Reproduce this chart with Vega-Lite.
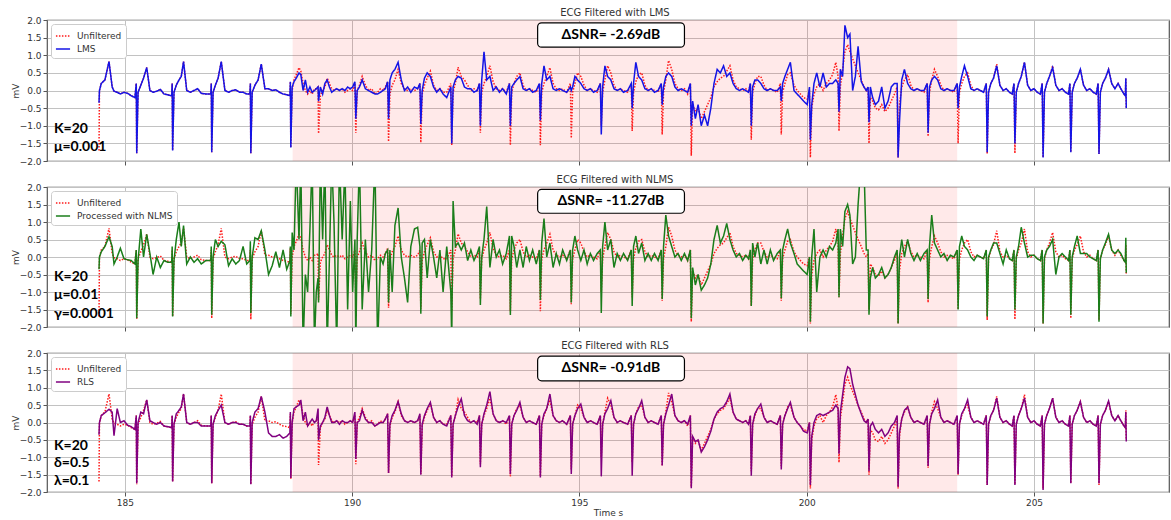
{
"$schema": "https://vega.github.io/schema/vega-lite/v6.json",
"padding": {"left": 10, "top": 7, "right": 0, "bottom": 0},
"spacing": 7,
"datasets": {"ecg": [
{"t":184.43,"u":-1.70,"l":-0.35,"n":-0.35,"r":-0.35},
{"t":184.44,"u":0.00,"l":0.00,"n":0.00,"r":0.00},
{"t":184.48,"u":0.20,"l":0.20,"n":0.15,"r":0.20},
{"t":184.56,"u":0.30,"l":0.30,"n":0.30,"r":0.28},
{"t":184.65,"u":0.82,"l":0.82,"n":0.58,"r":0.38},
{"t":184.72,"u":0.10,"l":0.10,"n":0.30,"r":0.30},
{"t":184.76,"u":-0.02,"l":-0.02,"n":-0.20,"r":-0.38},
{"t":184.83,"u":-0.05,"l":-0.05,"n":0.00,"r":0.40},
{"t":184.90,"u":-0.10,"l":-0.10,"n":0.25,"r":0.00},
{"t":184.98,"u":-0.05,"l":-0.05,"n":-0.05,"r":0.05},
{"t":185.06,"u":-0.08,"l":-0.08,"n":-0.08,"r":-0.08},
{"t":185.14,"u":-0.15,"l":-0.15,"n":-0.10,"r":-0.12},
{"t":185.22,"u":-0.20,"l":-0.20,"n":-0.20,"r":-0.20},
{"t":185.25,"u":0.20,"l":0.20,"n":0.20,"r":0.20},
{"t":185.26,"u":-1.78,"l":-1.78,"n":-1.75,"r":-1.75},
{"t":185.29,"u":-0.05,"l":-0.05,"n":-0.10,"r":0.00},
{"t":185.35,"u":0.15,"l":0.15,"n":0.80,"r":0.30},
{"t":185.41,"u":0.35,"l":0.35,"n":0.00,"r":0.25},
{"t":185.48,"u":0.65,"l":0.65,"n":0.65,"r":0.65},
{"t":185.55,"u":0.00,"l":0.00,"n":0.10,"r":0.05},
{"t":185.62,"u":-0.05,"l":-0.05,"n":-0.50,"r":0.00},
{"t":185.70,"u":-0.02,"l":-0.02,"n":0.00,"r":-0.05},
{"t":185.78,"u":0.03,"l":0.03,"n":-0.30,"r":0.00},
{"t":185.86,"u":-0.10,"l":-0.10,"n":-0.10,"r":-0.10},
{"t":185.94,"u":-0.12,"l":-0.12,"n":-0.15,"r":-0.12},
{"t":186.03,"u":-0.15,"l":-0.15,"n":-0.15,"r":-0.15},
{"t":186.04,"u":0.20,"l":0.20,"n":0.30,"r":0.20},
{"t":186.05,"u":-1.70,"l":-1.70,"n":-1.70,"r":-1.70},
{"t":186.08,"u":-0.05,"l":-0.05,"n":-0.10,"r":-0.05},
{"t":186.13,"u":0.15,"l":0.15,"n":0.50,"r":0.25},
{"t":186.19,"u":0.30,"l":0.30,"n":1.00,"r":0.35},
{"t":186.24,"u":0.40,"l":0.40,"n":0.30,"r":0.45},
{"t":186.29,"u":0.82,"l":0.82,"n":0.90,"r":0.82},
{"t":186.36,"u":0.00,"l":0.00,"n":-0.20,"r":0.00},
{"t":186.44,"u":-0.05,"l":-0.05,"n":0.00,"r":-0.05},
{"t":186.52,"u":0.00,"l":0.00,"n":-0.15,"r":0.00},
{"t":186.60,"u":0.05,"l":0.05,"n":-0.05,"r":0.00},
{"t":186.68,"u":-0.08,"l":-0.08,"n":-0.20,"r":-0.10},
{"t":186.78,"u":-0.10,"l":-0.10,"n":-0.10,"r":-0.10},
{"t":186.89,"u":-0.10,"l":-0.10,"n":-0.10,"r":-0.10},
{"t":186.90,"u":0.20,"l":0.20,"n":0.30,"r":0.20},
{"t":186.91,"u":-1.75,"l":-1.75,"n":-1.65,"r":-1.75},
{"t":186.94,"u":-0.05,"l":-0.05,"n":0.00,"r":-0.05},
{"t":186.99,"u":0.15,"l":0.15,"n":0.50,"r":0.20},
{"t":187.05,"u":0.35,"l":0.35,"n":0.30,"r":0.35},
{"t":187.12,"u":0.82,"l":0.82,"n":0.45,"r":0.50},
{"t":187.20,"u":0.00,"l":0.00,"n":0.35,"r":0.00},
{"t":187.28,"u":-0.05,"l":-0.05,"n":-0.25,"r":-0.05},
{"t":187.36,"u":0.00,"l":0.00,"n":-0.05,"r":0.00},
{"t":187.44,"u":0.02,"l":0.02,"n":-0.20,"r":0.00},
{"t":187.52,"u":-0.05,"l":-0.05,"n":-0.10,"r":-0.05},
{"t":187.60,"u":-0.05,"l":-0.05,"n":0.30,"r":-0.05},
{"t":187.68,"u":-0.10,"l":-0.10,"n":-0.20,"r":-0.10},
{"t":187.75,"u":-0.10,"l":-0.10,"n":-0.10,"r":-0.10},
{"t":187.76,"u":0.20,"l":0.20,"n":0.45,"r":0.20},
{"t":187.77,"u":-1.78,"l":-1.78,"n":-1.60,"r":-1.78},
{"t":187.80,"u":-0.05,"l":-0.05,"n":0.00,"r":0.00},
{"t":187.86,"u":0.15,"l":0.15,"n":0.55,"r":0.30},
{"t":187.93,"u":0.30,"l":0.30,"n":0.50,"r":0.40},
{"t":188.00,"u":0.75,"l":0.75,"n":0.75,"r":0.75},
{"t":188.08,"u":0.05,"l":0.05,"n":0.20,"r":0.30},
{"t":188.16,"u":0.05,"l":0.05,"n":-0.50,"r":-0.30},
{"t":188.24,"u":0.00,"l":0.00,"n":-0.25,"r":-0.40},
{"t":188.32,"u":0.02,"l":0.02,"n":0.15,"r":-0.40},
{"t":188.40,"u":-0.05,"l":-0.05,"n":-0.30,"r":-0.35},
{"t":188.48,"u":-0.10,"l":-0.10,"n":0.20,"r":-0.45},
{"t":188.56,"u":-0.12,"l":-0.12,"n":-0.35,"r":-0.40},
{"t":188.63,"u":-0.15,"l":-0.15,"n":-0.10,"r":-0.30},
{"t":188.64,"u":0.25,"l":0.25,"n":0.30,"r":0.30},
{"t":188.65,"u":-1.62,"l":-1.62,"n":-1.70,"r":-1.60},
{"t":188.68,"u":0.00,"l":0.10,"n":0.70,"r":0.00},
{"t":188.72,"u":0.30,"l":0.25,"n":0.20,"r":0.40},
{"t":188.77,"u":0.45,"l":0.35,"n":2.80,"r":0.45},
{"t":188.83,"u":0.65,"l":0.50,"n":0.50,"r":0.50},
{"t":188.87,"u":0.55,"l":0.45,"n":2.80,"r":0.65},
{"t":188.92,"u":0.20,"l":0.00,"n":-2.60,"r":0.05},
{"t":188.97,"u":0.00,"l":0.30,"n":-0.50,"r":0.30},
{"t":189.02,"u":-0.10,"l":-0.05,"n":-1.00,"r":-0.10},
{"t":189.07,"u":0.00,"l":0.10,"n":0.80,"r":0.00},
{"t":189.12,"u":-0.10,"l":-0.05,"n":2.80,"r":0.10},
{"t":189.17,"u":0.05,"l":0.00,"n":-2.50,"r":0.00},
{"t":189.21,"u":0.05,"l":0.05,"n":-1.00,"r":0.05},
{"t":189.25,"u":0.10,"l":0.10,"n":-0.60,"r":0.40},
{"t":189.26,"u":-1.22,"l":-0.30,"n":-1.30,"r":-0.50},
{"t":189.30,"u":-0.15,"l":0.10,"n":2.80,"r":-0.10},
{"t":189.35,"u":0.00,"l":-0.10,"n":0.50,"r":0.00},
{"t":189.40,"u":0.10,"l":0.20,"n":2.80,"r":0.15},
{"t":189.45,"u":0.35,"l":0.30,"n":-2.60,"r":0.45},
{"t":189.50,"u":0.20,"l":0.10,"n":0.00,"r":0.20},
{"t":189.55,"u":0.05,"l":-0.05,"n":2.80,"r":0.00},
{"t":189.60,"u":0.00,"l":0.00,"n":1.00,"r":0.00},
{"t":189.66,"u":0.05,"l":0.05,"n":-2.60,"r":0.05},
{"t":189.72,"u":0.00,"l":0.00,"n":2.80,"r":-0.05},
{"t":189.78,"u":0.05,"l":0.05,"n":0.50,"r":0.05},
{"t":189.84,"u":-0.05,"l":0.00,"n":2.60,"r":0.00},
{"t":189.90,"u":0.00,"l":0.10,"n":-1.50,"r":0.00},
{"t":189.96,"u":0.05,"l":0.05,"n":1.60,"r":0.05},
{"t":190.01,"u":0.00,"l":0.10,"n":-1.00,"r":0.00},
{"t":190.06,"u":0.20,"l":0.25,"n":0.50,"r":0.30},
{"t":190.08,"u":-1.20,"l":-0.80,"n":-2.60,"r":-1.05},
{"t":190.11,"u":0.00,"l":0.00,"n":0.50,"r":0.00},
{"t":190.16,"u":0.15,"l":0.10,"n":2.80,"r":0.05},
{"t":190.22,"u":0.40,"l":0.30,"n":-1.50,"r":0.35},
{"t":190.29,"u":0.15,"l":0.05,"n":0.50,"r":0.10},
{"t":190.36,"u":0.00,"l":0.00,"n":-1.00,"r":0.00},
{"t":190.43,"u":0.05,"l":-0.05,"n":0.20,"r":0.00},
{"t":190.50,"u":-0.10,"l":-0.10,"n":2.80,"r":-0.10},
{"t":190.56,"u":-0.05,"l":-0.10,"n":-2.60,"r":-0.05},
{"t":190.62,"u":0.05,"l":-0.05,"n":0.00,"r":0.00},
{"t":190.68,"u":0.00,"l":0.00,"n":-0.20,"r":0.00},
{"t":190.73,"u":0.10,"l":0.05,"n":0.10,"r":0.10},
{"t":190.78,"u":0.25,"l":0.25,"n":0.20,"r":0.25},
{"t":190.80,"u":-1.45,"l":-0.80,"n":-1.30,"r":-1.45},
{"t":190.83,"u":-0.10,"l":0.30,"n":0.20,"r":-0.05},
{"t":190.88,"u":0.15,"l":0.50,"n":-1.00,"r":0.20},
{"t":190.94,"u":0.30,"l":0.60,"n":0.90,"r":0.35},
{"t":191.01,"u":0.60,"l":0.80,"n":1.40,"r":0.60},
{"t":191.08,"u":0.20,"l":0.30,"n":0.00,"r":0.25},
{"t":191.15,"u":0.05,"l":0.00,"n":-0.60,"r":0.05},
{"t":191.22,"u":0.00,"l":0.10,"n":-1.30,"r":0.00},
{"t":191.29,"u":0.05,"l":-0.05,"n":0.30,"r":0.05},
{"t":191.37,"u":0.00,"l":0.10,"n":0.80,"r":0.00},
{"t":191.44,"u":0.05,"l":0.05,"n":0.85,"r":0.05},
{"t":191.49,"u":0.20,"l":0.20,"n":0.30,"r":0.25},
{"t":191.51,"u":-1.48,"l":-0.95,"n":-1.62,"r":-1.50},
{"t":191.54,"u":-0.10,"l":0.00,"n":0.40,"r":-0.05},
{"t":191.59,"u":0.15,"l":0.35,"n":0.50,"r":0.20},
{"t":191.65,"u":0.35,"l":0.50,"n":-0.60,"r":0.40},
{"t":191.72,"u":0.55,"l":0.40,"n":0.50,"r":0.58},
{"t":191.79,"u":0.15,"l":0.10,"n":0.00,"r":0.15},
{"t":191.86,"u":0.00,"l":-0.05,"n":-0.60,"r":0.00},
{"t":191.93,"u":0.05,"l":0.05,"n":0.20,"r":0.05},
{"t":192.00,"u":-0.05,"l":-0.10,"n":-1.00,"r":-0.05},
{"t":192.08,"u":-0.05,"l":-0.20,"n":0.30,"r":-0.10},
{"t":192.17,"u":0.20,"l":0.10,"n":-1.00,"r":0.20},
{"t":192.19,"u":-1.55,"l":-1.50,"n":-2.40,"r":-1.58},
{"t":192.22,"u":-0.05,"l":0.10,"n":1.60,"r":-0.05},
{"t":192.27,"u":0.20,"l":0.30,"n":0.30,"r":0.20},
{"t":192.33,"u":0.66,"l":0.40,"n":0.40,"r":0.45},
{"t":192.40,"u":0.40,"l":0.35,"n":0.20,"r":0.68},
{"t":192.47,"u":0.30,"l":0.10,"n":0.40,"r":0.20},
{"t":192.54,"u":0.15,"l":0.05,"n":-0.10,"r":0.05},
{"t":192.61,"u":0.00,"l":0.05,"n":0.20,"r":0.00},
{"t":192.68,"u":0.05,"l":-0.05,"n":-0.10,"r":0.05},
{"t":192.75,"u":0.00,"l":0.00,"n":0.10,"r":-0.05},
{"t":192.80,"u":0.20,"l":0.20,"n":0.30,"r":0.20},
{"t":192.82,"u":-1.20,"l":-1.00,"n":-1.37,"r":-1.29},
{"t":192.85,"u":-0.05,"l":0.30,"n":0.00,"r":-0.05},
{"t":192.90,"u":0.20,"l":1.10,"n":0.50,"r":0.25},
{"t":192.96,"u":0.40,"l":0.30,"n":1.44,"r":0.50},
{"t":193.03,"u":0.70,"l":0.40,"n":-0.30,"r":0.89},
{"t":193.10,"u":0.25,"l":0.00,"n":0.50,"r":0.25},
{"t":193.17,"u":0.05,"l":0.10,"n":0.00,"r":0.05},
{"t":193.24,"u":0.00,"l":-0.05,"n":0.20,"r":0.00},
{"t":193.31,"u":0.05,"l":0.05,"n":-0.20,"r":0.05},
{"t":193.39,"u":-0.05,"l":-0.10,"n":0.10,"r":0.00},
{"t":193.46,"u":0.20,"l":0.20,"n":0.60,"r":0.20},
{"t":193.48,"u":-1.55,"l":-1.00,"n":-1.66,"r":-1.48},
{"t":193.51,"u":-0.05,"l":0.10,"n":0.60,"r":-0.05},
{"t":193.56,"u":0.20,"l":0.20,"n":0.30,"r":0.20},
{"t":193.62,"u":0.40,"l":0.30,"n":-0.30,"r":0.35},
{"t":193.69,"u":0.50,"l":0.40,"n":0.20,"r":0.58},
{"t":193.76,"u":0.15,"l":0.05,"n":-0.30,"r":0.15},
{"t":193.83,"u":0.00,"l":0.00,"n":0.30,"r":0.00},
{"t":193.90,"u":0.05,"l":0.05,"n":-0.10,"r":0.05},
{"t":193.97,"u":0.00,"l":-0.05,"n":0.20,"r":0.00},
{"t":194.05,"u":-0.05,"l":0.00,"n":-0.20,"r":-0.05},
{"t":194.12,"u":0.20,"l":0.20,"n":0.20,"r":0.20},
{"t":194.14,"u":-1.55,"l":-0.85,"n":-1.23,"r":-1.58},
{"t":194.17,"u":-0.05,"l":0.20,"n":0.40,"r":-0.05},
{"t":194.22,"u":0.20,"l":0.70,"n":1.10,"r":0.25},
{"t":194.28,"u":0.40,"l":0.30,"n":0.00,"r":0.40},
{"t":194.35,"u":0.65,"l":0.40,"n":0.40,"r":0.82},
{"t":194.42,"u":0.20,"l":0.05,"n":-0.30,"r":0.20},
{"t":194.49,"u":0.05,"l":0.00,"n":0.10,"r":0.05},
{"t":194.56,"u":0.00,"l":0.05,"n":-0.20,"r":0.00},
{"t":194.63,"u":0.05,"l":0.00,"n":0.20,"r":0.05},
{"t":194.72,"u":-0.05,"l":-0.05,"n":-0.10,"r":-0.05},
{"t":194.80,"u":0.20,"l":0.10,"n":0.20,"r":0.20},
{"t":194.82,"u":-1.35,"l":0.00,"n":-1.30,"r":-1.48},
{"t":194.85,"u":-0.05,"l":0.10,"n":0.20,"r":-0.05},
{"t":194.90,"u":0.20,"l":0.40,"n":0.60,"r":0.20},
{"t":194.96,"u":0.50,"l":0.30,"n":0.20,"r":0.40},
{"t":195.03,"u":0.40,"l":0.20,"n":-0.10,"r":0.53},
{"t":195.10,"u":0.15,"l":0.05,"n":0.20,"r":0.15},
{"t":195.17,"u":0.00,"l":0.00,"n":-0.20,"r":0.00},
{"t":195.24,"u":0.05,"l":0.05,"n":0.10,"r":0.05},
{"t":195.31,"u":0.00,"l":-0.05,"n":-0.10,"r":0.00},
{"t":195.39,"u":-0.05,"l":0.00,"n":0.10,"r":-0.05},
{"t":195.46,"u":0.20,"l":0.20,"n":0.20,"r":0.20},
{"t":195.48,"u":-1.00,"l":-1.25,"n":-1.60,"r":-1.55},
{"t":195.51,"u":-0.05,"l":0.10,"n":0.30,"r":-0.05},
{"t":195.56,"u":0.30,"l":0.70,"n":1.00,"r":0.25},
{"t":195.62,"u":0.70,"l":0.40,"n":0.20,"r":0.40},
{"t":195.69,"u":0.50,"l":0.30,"n":0.50,"r":0.63},
{"t":195.76,"u":0.15,"l":0.05,"n":-0.30,"r":0.15},
{"t":195.83,"u":0.00,"l":0.00,"n":0.10,"r":0.00},
{"t":195.90,"u":0.05,"l":0.05,"n":-0.10,"r":0.05},
{"t":195.97,"u":0.00,"l":-0.05,"n":0.10,"r":0.00},
{"t":196.06,"u":-0.05,"l":0.00,"n":-0.10,"r":-0.05},
{"t":196.14,"u":0.20,"l":0.20,"n":0.20,"r":0.20},
{"t":196.16,"u":-1.15,"l":-0.50,"n":-1.40,"r":-1.53},
{"t":196.19,"u":-0.05,"l":0.20,"n":0.30,"r":-0.05},
{"t":196.24,"u":0.25,"l":0.80,"n":0.60,"r":0.25},
{"t":196.30,"u":0.45,"l":0.40,"n":0.10,"r":0.40},
{"t":196.37,"u":0.50,"l":0.30,"n":0.40,"r":0.63},
{"t":196.44,"u":0.15,"l":0.05,"n":-0.10,"r":0.15},
{"t":196.51,"u":0.00,"l":0.00,"n":0.10,"r":0.00},
{"t":196.58,"u":0.05,"l":0.05,"n":-0.10,"r":0.05},
{"t":196.65,"u":0.00,"l":-0.05,"n":0.10,"r":0.00},
{"t":196.73,"u":-0.05,"l":0.00,"n":-0.10,"r":-0.05},
{"t":196.80,"u":0.20,"l":0.20,"n":0.20,"r":0.20},
{"t":196.82,"u":-1.25,"l":-0.40,"n":-1.20,"r":-1.24},
{"t":196.85,"u":-0.05,"l":0.10,"n":0.30,"r":-0.05},
{"t":196.90,"u":0.30,"l":0.40,"n":1.20,"r":0.25},
{"t":196.96,"u":0.85,"l":0.50,"n":0.60,"r":0.50},
{"t":197.03,"u":0.60,"l":0.40,"n":0.30,"r":0.82},
{"t":197.10,"u":0.20,"l":0.10,"n":0.00,"r":0.20},
{"t":197.17,"u":0.05,"l":0.00,"n":0.10,"r":0.05},
{"t":197.24,"u":0.00,"l":0.05,"n":-0.10,"r":0.00},
{"t":197.31,"u":0.05,"l":0.00,"n":0.10,"r":0.05},
{"t":197.38,"u":-0.10,"l":-0.05,"n":-0.10,"r":-0.05},
{"t":197.44,"u":0.20,"l":0.20,"n":0.20,"r":0.20},
{"t":197.46,"u":-1.85,"l":-1.00,"n":-1.75,"r":-1.89},
{"t":197.49,"u":-0.40,"l":-0.30,"n":-0.30,"r":-0.40},
{"t":197.55,"u":-0.60,"l":-0.80,"n":-0.80,"r":-0.55},
{"t":197.61,"u":-0.50,"l":-0.40,"n":-0.50,"r":-0.50},
{"t":197.68,"u":-0.80,"l":-1.00,"n":-0.95,"r":-0.85},
{"t":197.75,"u":-0.60,"l":-0.70,"n":-0.80,"r":-0.70},
{"t":197.82,"u":-0.40,"l":-1.00,"n":-0.60,"r":-0.50},
{"t":197.89,"u":-0.20,"l":-0.50,"n":-0.20,"r":-0.25},
{"t":197.96,"u":0.10,"l":0.20,"n":0.50,"r":0.10},
{"t":198.03,"u":0.25,"l":0.60,"n":0.90,"r":0.30},
{"t":198.10,"u":0.35,"l":0.50,"n":0.40,"r":0.40},
{"t":198.17,"u":0.40,"l":0.70,"n":0.60,"r":0.45},
{"t":198.24,"u":0.55,"l":0.40,"n":0.96,"r":0.60},
{"t":198.31,"u":0.70,"l":0.50,"n":0.50,"r":0.82},
{"t":198.38,"u":0.30,"l":0.20,"n":0.20,"r":0.30},
{"t":198.45,"u":0.10,"l":0.05,"n":0.00,"r":0.10},
{"t":198.52,"u":0.05,"l":0.00,"n":0.10,"r":0.05},
{"t":198.59,"u":0.00,"l":0.05,"n":-0.10,"r":0.00},
{"t":198.66,"u":0.05,"l":0.00,"n":0.05,"r":0.05},
{"t":198.72,"u":-0.05,"l":-0.05,"n":-0.05,"r":-0.05},
{"t":198.76,"u":0.20,"l":0.20,"n":0.20,"r":0.20},
{"t":198.78,"u":-1.40,"l":-1.00,"n":-1.40,"r":-1.53},
{"t":198.81,"u":-0.05,"l":0.10,"n":0.40,"r":-0.05},
{"t":198.86,"u":0.20,"l":0.30,"n":0.00,"r":0.25},
{"t":198.92,"u":0.40,"l":0.30,"n":0.40,"r":0.40},
{"t":198.99,"u":0.40,"l":0.20,"n":-0.20,"r":0.53},
{"t":199.06,"u":0.15,"l":0.05,"n":0.20,"r":0.15},
{"t":199.13,"u":0.00,"l":0.00,"n":-0.20,"r":0.00},
{"t":199.20,"u":0.05,"l":0.05,"n":0.20,"r":0.05},
{"t":199.27,"u":0.00,"l":0.00,"n":-0.10,"r":0.00},
{"t":199.35,"u":-0.05,"l":0.00,"n":0.10,"r":-0.05},
{"t":199.42,"u":0.20,"l":0.10,"n":0.20,"r":0.20},
{"t":199.44,"u":-1.25,"l":-0.30,"n":-1.18,"r":-1.35},
{"t":199.47,"u":-0.05,"l":0.20,"n":0.20,"r":-0.05},
{"t":199.52,"u":0.20,"l":0.40,"n":0.50,"r":0.20},
{"t":199.58,"u":0.45,"l":0.60,"n":0.80,"r":0.40},
{"t":199.64,"u":0.50,"l":0.80,"n":0.40,"r":0.58},
{"t":199.72,"u":0.15,"l":0.00,"n":0.10,"r":0.15},
{"t":199.79,"u":0.00,"l":-0.10,"n":-0.20,"r":0.00},
{"t":199.86,"u":-0.10,"l":-0.20,"n":-0.30,"r":-0.10},
{"t":199.93,"u":-0.20,"l":-0.30,"n":-0.40,"r":-0.25},
{"t":200.01,"u":-0.25,"l":-0.40,"n":-0.50,"r":-0.30},
{"t":200.06,"u":0.00,"l":0.10,"n":0.00,"r":0.00},
{"t":200.08,"u":-1.90,"l":-1.40,"n":-1.85,"r":-1.80},
{"t":200.11,"u":-0.50,"l":-0.40,"n":0.00,"r":-0.40},
{"t":200.16,"u":-0.10,"l":0.20,"n":0.80,"r":0.00},
{"t":200.22,"u":0.10,"l":0.50,"n":-1.00,"r":0.20},
{"t":200.29,"u":0.20,"l":0.10,"n":0.00,"r":0.25},
{"t":200.36,"u":0.00,"l":0.50,"n":0.20,"r":0.20},
{"t":200.43,"u":0.20,"l":0.10,"n":0.00,"r":0.25},
{"t":200.50,"u":0.30,"l":0.20,"n":0.30,"r":0.30},
{"t":200.57,"u":0.45,"l":0.20,"n":0.20,"r":0.35},
{"t":200.64,"u":0.80,"l":0.30,"n":0.40,"r":0.50},
{"t":200.69,"u":0.40,"l":0.20,"n":0.80,"r":0.40},
{"t":200.71,"u":-1.15,"l":-0.60,"n":-1.15,"r":-0.90},
{"t":200.74,"u":0.10,"l":0.60,"n":0.80,"r":0.30},
{"t":200.79,"u":0.60,"l":0.40,"n":0.30,"r":0.80},
{"t":200.84,"u":1.10,"l":1.85,"n":1.30,"r":1.30},
{"t":200.90,"u":1.30,"l":1.50,"n":1.50,"r":1.60},
{"t":200.95,"u":1.10,"l":1.60,"n":1.20,"r":1.55},
{"t":201.01,"u":0.90,"l":0.00,"n":-0.20,"r":1.10},
{"t":201.07,"u":0.70,"l":0.40,"n":0.00,"r":0.80},
{"t":201.13,"u":0.50,"l":1.25,"n":1.50,"r":0.50},
{"t":201.20,"u":0.30,"l":0.25,"n":2.80,"r":0.25},
{"t":201.26,"u":0.10,"l":0.10,"n":2.60,"r":0.05},
{"t":201.31,"u":0.00,"l":0.00,"n":0.20,"r":0.00},
{"t":201.35,"u":0.10,"l":0.10,"n":0.20,"r":0.10},
{"t":201.37,"u":-1.50,"l":-0.90,"n":-1.65,"r":-1.40},
{"t":201.40,"u":-0.20,"l":0.10,"n":-0.60,"r":-0.10},
{"t":201.45,"u":-0.30,"l":-0.20,"n":-0.30,"r":0.00},
{"t":201.51,"u":-0.50,"l":-0.40,"n":-0.60,"r":-0.20},
{"t":201.58,"u":-0.55,"l":-0.30,"n":-0.50,"r":-0.30},
{"t":201.65,"u":-0.40,"l":0.10,"n":-0.30,"r":-0.20},
{"t":201.72,"u":-0.60,"l":-0.50,"n":-0.60,"r":-0.40},
{"t":201.79,"u":-0.50,"l":-0.30,"n":-0.50,"r":-0.30},
{"t":201.86,"u":-0.30,"l":0.10,"n":-0.30,"r":-0.10},
{"t":201.93,"u":-0.10,"l":0.20,"n":0.00,"r":0.00},
{"t":201.99,"u":0.10,"l":0.20,"n":0.20,"r":0.20},
{"t":202.01,"u":-1.90,"l":-1.90,"n":-1.90,"r":-1.85},
{"t":202.04,"u":-0.40,"l":-0.90,"n":0.00,"r":-0.30},
{"t":202.09,"u":0.10,"l":0.30,"n":0.50,"r":0.10},
{"t":202.15,"u":0.30,"l":0.60,"n":0.00,"r":0.35},
{"t":202.22,"u":0.45,"l":0.20,"n":0.50,"r":0.45},
{"t":202.29,"u":0.15,"l":0.05,"n":0.10,"r":0.15},
{"t":202.36,"u":0.00,"l":0.00,"n":-0.10,"r":0.00},
{"t":202.43,"u":0.05,"l":0.05,"n":0.10,"r":0.05},
{"t":202.50,"u":0.00,"l":0.00,"n":-0.10,"r":0.00},
{"t":202.58,"u":-0.05,"l":0.00,"n":0.10,"r":-0.05},
{"t":202.65,"u":0.20,"l":0.20,"n":0.20,"r":0.20},
{"t":202.67,"u":-1.30,"l":-1.20,"n":-1.20,"r":-1.25},
{"t":202.70,"u":-0.05,"l":0.10,"n":0.30,"r":-0.05},
{"t":202.75,"u":0.30,"l":0.30,"n":1.20,"r":0.25},
{"t":202.81,"u":0.60,"l":0.40,"n":0.40,"r":0.40},
{"t":202.88,"u":0.40,"l":0.30,"n":0.20,"r":0.65},
{"t":202.95,"u":0.15,"l":0.05,"n":0.00,"r":0.15},
{"t":203.02,"u":0.00,"l":0.00,"n":0.10,"r":0.00},
{"t":203.09,"u":0.05,"l":0.05,"n":-0.10,"r":0.05},
{"t":203.16,"u":0.00,"l":0.00,"n":0.05,"r":0.00},
{"t":203.24,"u":-0.05,"l":0.00,"n":0.00,"r":-0.05},
{"t":203.31,"u":0.20,"l":0.20,"n":0.20,"r":0.20},
{"t":203.33,"u":-1.50,"l":-0.50,"n":-1.50,"r":-1.48},
{"t":203.36,"u":-0.05,"l":0.10,"n":0.30,"r":-0.05},
{"t":203.41,"u":0.20,"l":0.40,"n":0.60,"r":0.25},
{"t":203.47,"u":0.40,"l":0.70,"n":0.30,"r":0.40},
{"t":203.54,"u":0.50,"l":0.40,"n":0.20,"r":0.65},
{"t":203.61,"u":0.15,"l":0.05,"n":0.00,"r":0.15},
{"t":203.68,"u":0.00,"l":0.00,"n":-0.10,"r":0.00},
{"t":203.75,"u":0.05,"l":0.05,"n":0.05,"r":0.05},
{"t":203.82,"u":0.00,"l":0.00,"n":0.00,"r":0.00},
{"t":203.89,"u":-0.05,"l":-0.05,"n":-0.05,"r":-0.05},
{"t":203.95,"u":0.20,"l":0.20,"n":0.20,"r":0.20},
{"t":203.97,"u":-1.80,"l":-1.75,"n":-1.70,"r":-1.80},
{"t":204.00,"u":-0.05,"l":-0.05,"n":0.00,"r":-0.05},
{"t":204.05,"u":0.20,"l":0.20,"n":0.20,"r":0.20},
{"t":204.11,"u":0.35,"l":0.35,"n":0.40,"r":0.35},
{"t":204.18,"u":0.75,"l":0.70,"n":0.40,"r":0.70},
{"t":204.25,"u":0.15,"l":0.15,"n":0.10,"r":0.15},
{"t":204.32,"u":0.00,"l":0.00,"n":-0.20,"r":0.00},
{"t":204.39,"u":0.05,"l":0.05,"n":0.20,"r":0.05},
{"t":204.46,"u":-0.05,"l":-0.05,"n":-0.05,"r":-0.05},
{"t":204.52,"u":-0.10,"l":-0.10,"n":-0.10,"r":-0.10},
{"t":204.56,"u":0.20,"l":0.20,"n":0.20,"r":0.20},
{"t":204.58,"u":-1.78,"l":-1.50,"n":-1.50,"r":-1.80},
{"t":204.61,"u":-0.05,"l":-0.05,"n":0.00,"r":-0.05},
{"t":204.66,"u":0.20,"l":0.20,"n":0.30,"r":0.20},
{"t":204.72,"u":0.40,"l":0.40,"n":0.85,"r":0.40},
{"t":204.79,"u":0.80,"l":0.80,"n":0.40,"r":0.70},
{"t":204.86,"u":0.15,"l":0.15,"n":0.00,"r":0.15},
{"t":204.93,"u":0.00,"l":0.00,"n":0.05,"r":0.00},
{"t":205.00,"u":0.05,"l":0.05,"n":0.05,"r":0.05},
{"t":205.07,"u":-0.05,"l":-0.05,"n":-0.05,"r":-0.05},
{"t":205.14,"u":-0.10,"l":-0.10,"n":-0.10,"r":-0.10},
{"t":205.18,"u":0.20,"l":0.20,"n":0.20,"r":0.20},
{"t":205.20,"u":-1.90,"l":-1.90,"n":-1.90,"r":-1.94},
{"t":205.23,"u":-0.05,"l":-0.05,"n":0.00,"r":-0.05},
{"t":205.28,"u":0.20,"l":0.20,"n":0.20,"r":0.20},
{"t":205.34,"u":0.40,"l":0.40,"n":0.30,"r":0.40},
{"t":205.41,"u":0.70,"l":0.65,"n":0.50,"r":0.70},
{"t":205.48,"u":0.15,"l":0.15,"n":-0.50,"r":0.15},
{"t":205.55,"u":0.00,"l":0.00,"n":0.00,"r":0.00},
{"t":205.62,"u":0.05,"l":0.05,"n":0.10,"r":0.05},
{"t":205.69,"u":-0.05,"l":-0.05,"n":0.00,"r":-0.05},
{"t":205.76,"u":-0.10,"l":-0.10,"n":-0.10,"r":-0.10},
{"t":205.79,"u":0.20,"l":0.20,"n":0.20,"r":0.20},
{"t":205.81,"u":-1.75,"l":-1.75,"n":-1.65,"r":-1.75},
{"t":205.84,"u":-0.05,"l":-0.05,"n":0.00,"r":-0.05},
{"t":205.89,"u":0.20,"l":0.20,"n":0.30,"r":0.20},
{"t":205.95,"u":0.35,"l":0.35,"n":0.60,"r":0.35},
{"t":206.02,"u":0.60,"l":0.60,"n":0.10,"r":0.60},
{"t":206.09,"u":0.15,"l":0.15,"n":0.10,"r":0.15},
{"t":206.16,"u":0.00,"l":0.00,"n":0.10,"r":0.00},
{"t":206.23,"u":0.05,"l":0.05,"n":0.00,"r":0.05},
{"t":206.30,"u":-0.05,"l":-0.05,"n":-0.05,"r":-0.05},
{"t":206.37,"u":-0.10,"l":-0.10,"n":-0.10,"r":-0.10},
{"t":206.41,"u":0.20,"l":0.20,"n":0.20,"r":0.20},
{"t":206.43,"u":-1.80,"l":-1.80,"n":-1.85,"r":-1.75},
{"t":206.46,"u":-0.05,"l":-0.05,"n":-0.05,"r":-0.05},
{"t":206.51,"u":0.20,"l":0.20,"n":0.20,"r":0.20},
{"t":206.57,"u":0.35,"l":0.35,"n":0.40,"r":0.35},
{"t":206.64,"u":0.60,"l":0.60,"n":0.65,"r":0.62},
{"t":206.71,"u":0.20,"l":0.20,"n":0.20,"r":0.20},
{"t":206.78,"u":0.05,"l":0.05,"n":0.10,"r":0.05},
{"t":206.85,"u":0.20,"l":0.20,"n":0.20,"r":0.20},
{"t":206.91,"u":0.05,"l":0.05,"n":0.10,"r":0.05},
{"t":206.98,"u":-0.10,"l":-0.10,"n":-0.10,"r":-0.10},
{"t":207.01,"u":-0.15,"l":-0.15,"n":-0.15,"r":-0.15},
{"t":207.02,"u":0.35,"l":0.35,"n":0.55,"r":0.30},
{"t":207.03,"u":-0.50,"l":-0.50,"n":-0.45,"r":-0.55}
]},
"config": {
 "font": "DejaVu Sans",
 "view": {"stroke": "#555555", "strokeWidth": 1.2},
 "axis": {"grid": true, "gridColor": "#c2c2c2", "gridWidth": 1, "domain": false, "tickColor": "#555555", "tickSize": 4, "labelFontSize": 9, "labelColor": "#333333", "labelFont": "DejaVu Sans", "titleFontSize": 9, "titleFontWeight": "normal", "titleColor": "#333333", "titleFont": "DejaVu Sans", "labelPadding": 2, "labelOverlap": false},
 "axisY": {"titlePadding": -1},
 "axisX": {"titlePadding": 1},
 "legend": {"orient": "top-left", "offset": 4, "fillColor": "white", "strokeColor": "#cccccc", "cornerRadius": 3, "padding": 4, "rowPadding": 0, "symbolType": "stroke", "symbolSize": 200, "symbolStrokeWidth": 1.5, "labelFontSize": 9, "labelColor": "#333333", "labelFont": "DejaVu Sans", "labelOffset": 6},
 "title": {"fontSize": 10, "fontWeight": "normal", "color": "#333333", "font": "DejaVu Sans", "offset": -2, "frame": "group"}
},
"resolve": {"scale": {"color": "independent", "strokeDash": "independent"}},
"vconcat": [
{
 "width": 1122, "height": 141,
 "title": {"text": "ECG Filtered with LMS", "dx": 7},
 "layer": [
  {"data": {"values": [{"a": 188.69, "b": 203.31}]},
   "mark": {"type": "rect", "color": "#ff0000", "opacity": 0.085},
   "encoding": {"x": {"field": "a", "type": "quantitative", "title": null, "scale": {"domain": [183.286, 207.97], "nice": false, "zero": false}, "axis": {"values": [185, 190, 195, 200, 205], "labels": false}}, "x2": {"field": "b"}}},
  {"data": {"name": "ecg"},
   "mark": {"type": "line", "strokeWidth": 1.5, "clip": true},
   "encoding": {
    "x": {"field": "t", "type": "quantitative", "title": null, "axis": {"values": [185, 190, 195, 200, 205], "labels": false}},
    "y": {"field": "u", "type": "quantitative", "title": "mV", "scale": {"domain": [-2, 2], "nice": false, "zero": false}, "axis": {"values": [-2, -1.5, -1, -0.5, 0, 0.5, 1, 1.5, 2], "tickCount": 20, "format": ".1f"}},
    "color": {"datum": "Unfiltered", "type": "nominal", "scale": {"domain": ["Unfiltered", "LMS"], "range": ["#ff1a1a", "#1414e6"]}, "legend": {"title": null}},
    "strokeDash": {"datum": "Unfiltered", "type": "nominal", "scale": {"domain": ["Unfiltered", "LMS"], "range": [[1.5, 1.5], [1, 0]]}, "legend": {"title": null}}
   }},
  {"data": {"name": "ecg"},
   "mark": {"type": "line", "strokeWidth": 1.5, "clip": true},
   "encoding": {
    "x": {"field": "t", "type": "quantitative", "title": null, "axis": {"values": [185, 190, 195, 200, 205], "labels": false}},
    "y": {"field": "l", "type": "quantitative", "title": "mV", "axis": {"values": [-2, -1.5, -1, -0.5, 0, 0.5, 1, 1.5, 2], "tickCount": 20, "format": ".1f"}},
    "color": {"datum": "LMS", "type": "nominal"},
    "strokeDash": {"datum": "LMS", "type": "nominal"}
   }},
  {"data": {"values": [{"s": "ΔSNR= -2.69dB"}]},
   "mark": {"type": "rect", "fill": "white", "stroke": "black", "strokeWidth": 1.2, "cornerRadius": 4},
   "encoding": {"x": {"datum": 194.08, "type": "quantitative"}, "x2": {"datum": 197.31}, "y": {"datum": 1.92, "type": "quantitative"}, "y2": {"datum": 1.23}}},
  {"data": {"values": [{"s": "ΔSNR= -2.69dB"}]},
   "mark": {"type": "text", "font": "Lato", "fontSize": 14, "fontWeight": "bold", "color": "black"},
   "encoding": {"x": {"datum": 195.69, "type": "quantitative"}, "y": {"datum": 1.575, "type": "quantitative"}, "text": {"field": "s"}}},
  {"data": {"values": [{"s": "K"}]},
   "mark": {"type": "text", "text": ["K=20", "μ=0.001"], "font": "Lato", "fontSize": 14, "fontWeight": "bold", "color": "black", "align": "left", "baseline": "top", "lineHeight": 18.5},
   "encoding": {"x": {"datum": 183.44, "type": "quantitative"}, "y": {"datum": -0.88, "type": "quantitative"}}}
 ]
},
{
 "width": 1122, "height": 140,
 "title": {"text": "ECG Filtered with NLMS", "dx": 7},
 "layer": [
  {"data": {"values": [{"a": 188.69, "b": 203.31}]},
   "mark": {"type": "rect", "color": "#ff0000", "opacity": 0.085},
   "encoding": {"x": {"field": "a", "type": "quantitative", "title": null, "scale": {"domain": [183.286, 207.97], "nice": false, "zero": false}, "axis": {"values": [185, 190, 195, 200, 205], "labels": false}}, "x2": {"field": "b"}}},
  {"data": {"name": "ecg"},
   "mark": {"type": "line", "strokeWidth": 1.5, "clip": true},
   "encoding": {
    "x": {"field": "t", "type": "quantitative", "title": null, "axis": {"values": [185, 190, 195, 200, 205], "labels": false}},
    "y": {"field": "u", "type": "quantitative", "title": "mV", "scale": {"domain": [-2, 2], "nice": false, "zero": false}, "axis": {"values": [-2, -1.5, -1, -0.5, 0, 0.5, 1, 1.5, 2], "tickCount": 20, "format": ".1f"}},
    "color": {"datum": "Unfiltered", "type": "nominal", "scale": {"domain": ["Unfiltered", "Processed with NLMS"], "range": ["#ff1a1a", "#1a7d1a"]}, "legend": {"title": null}},
    "strokeDash": {"datum": "Unfiltered", "type": "nominal", "scale": {"domain": ["Unfiltered", "Processed with NLMS"], "range": [[1.5, 1.5], [1, 0]]}, "legend": {"title": null}}
   }},
  {"data": {"name": "ecg"},
   "mark": {"type": "line", "strokeWidth": 1.5, "clip": true},
   "encoding": {
    "x": {"field": "t", "type": "quantitative", "title": null, "axis": {"values": [185, 190, 195, 200, 205], "labels": false}},
    "y": {"field": "n", "type": "quantitative", "title": "mV", "axis": {"values": [-2, -1.5, -1, -0.5, 0, 0.5, 1, 1.5, 2], "tickCount": 20, "format": ".1f"}},
    "color": {"datum": "Processed with NLMS", "type": "nominal"},
    "strokeDash": {"datum": "Processed with NLMS", "type": "nominal"}
   }},
  {"data": {"values": [{"s": "ΔSNR= -11.27dB"}]},
   "mark": {"type": "rect", "fill": "white", "stroke": "black", "strokeWidth": 1.2, "cornerRadius": 4},
   "encoding": {"x": {"datum": 194.08, "type": "quantitative"}, "x2": {"datum": 197.31}, "y": {"datum": 1.93, "type": "quantitative"}, "y2": {"datum": 1.25}}},
  {"data": {"values": [{"s": "ΔSNR= -11.27dB"}]},
   "mark": {"type": "text", "font": "Lato", "fontSize": 14, "fontWeight": "bold", "color": "black"},
   "encoding": {"x": {"datum": 195.69, "type": "quantitative"}, "y": {"datum": 1.59, "type": "quantitative"}, "text": {"field": "s"}}},
  {"data": {"values": [{"s": "K"}]},
   "mark": {"type": "text", "text": ["K=20", "μ=0.01", "γ=0.0001"], "font": "Lato", "fontSize": 14, "fontWeight": "bold", "color": "black", "align": "left", "baseline": "top", "lineHeight": 18.5},
   "encoding": {"x": {"datum": 183.44, "type": "quantitative"}, "y": {"datum": -0.36, "type": "quantitative"}}}
 ]
},
{
 "width": 1122, "height": 139,
 "title": {"text": "ECG Filtered with RLS", "dx": 7},
 "layer": [
  {"data": {"values": [{"a": 188.69, "b": 203.31}]},
   "mark": {"type": "rect", "color": "#ff0000", "opacity": 0.085},
   "encoding": {"x": {"field": "a", "type": "quantitative", "title": "Time s", "scale": {"domain": [183.286, 207.97], "nice": false, "zero": false}, "axis": {"values": [185, 190, 195, 200, 205]}}, "x2": {"field": "b"}}},
  {"data": {"name": "ecg"},
   "mark": {"type": "line", "strokeWidth": 1.5, "clip": true},
   "encoding": {
    "x": {"field": "t", "type": "quantitative", "title": "Time s", "axis": {"values": [185, 190, 195, 200, 205]}},
    "y": {"field": "u", "type": "quantitative", "title": "mV", "scale": {"domain": [-2, 2], "nice": false, "zero": false}, "axis": {"values": [-2, -1.5, -1, -0.5, 0, 0.5, 1, 1.5, 2], "tickCount": 20, "format": ".1f"}},
    "color": {"datum": "Unfiltered", "type": "nominal", "scale": {"domain": ["Unfiltered", "RLS"], "range": ["#ff1a1a", "#800080"]}, "legend": {"title": null}},
    "strokeDash": {"datum": "Unfiltered", "type": "nominal", "scale": {"domain": ["Unfiltered", "RLS"], "range": [[1.5, 1.5], [1, 0]]}, "legend": {"title": null}}
   }},
  {"data": {"name": "ecg"},
   "mark": {"type": "line", "strokeWidth": 1.5, "clip": true},
   "encoding": {
    "x": {"field": "t", "type": "quantitative", "title": "Time s", "axis": {"values": [185, 190, 195, 200, 205]}},
    "y": {"field": "r", "type": "quantitative", "title": "mV", "axis": {"values": [-2, -1.5, -1, -0.5, 0, 0.5, 1, 1.5, 2], "tickCount": 20, "format": ".1f"}},
    "color": {"datum": "RLS", "type": "nominal"},
    "strokeDash": {"datum": "RLS", "type": "nominal"}
   }},
  {"data": {"values": [{"s": "ΔSNR= -0.91dB"}]},
   "mark": {"type": "rect", "fill": "white", "stroke": "black", "strokeWidth": 1.2, "cornerRadius": 4},
   "encoding": {"x": {"datum": 194.08, "type": "quantitative"}, "x2": {"datum": 197.31}, "y": {"datum": 1.91, "type": "quantitative"}, "y2": {"datum": 1.2}}},
  {"data": {"values": [{"s": "ΔSNR= -0.91dB"}]},
   "mark": {"type": "text", "font": "Lato", "fontSize": 14, "fontWeight": "bold", "color": "black"},
   "encoding": {"x": {"datum": 195.69, "type": "quantitative"}, "y": {"datum": 1.555, "type": "quantitative"}, "text": {"field": "s"}}},
  {"data": {"values": [{"s": "K"}]},
   "mark": {"type": "text", "text": ["K=20", "δ=0.5", "λ=0.1"], "font": "Lato", "fontSize": 14, "fontWeight": "bold", "color": "black", "align": "left", "baseline": "top", "lineHeight": 17.5},
   "encoding": {"x": {"datum": 183.44, "type": "quantitative"}, "y": {"datum": -0.47, "type": "quantitative"}}}
 ]
}
]
}
